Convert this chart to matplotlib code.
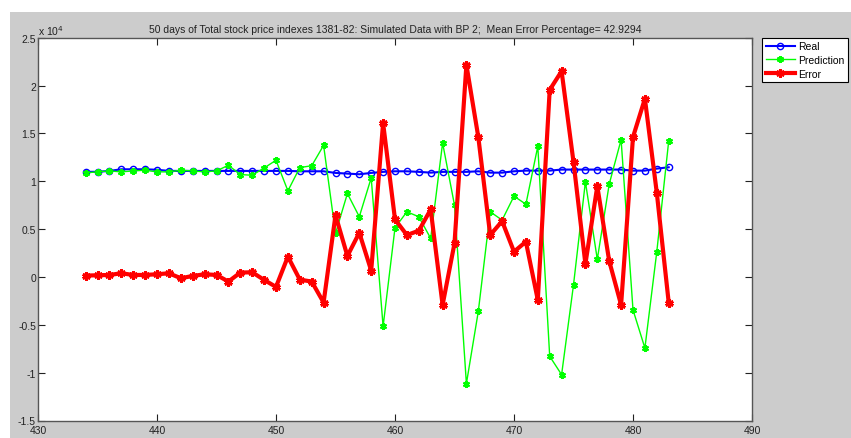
import matplotlib
matplotlib.use("Agg")
import matplotlib.pyplot as plt
from matplotlib.patches import Rectangle
from matplotlib.ticker import FuncFormatter
import numpy as np

# 50 days, x = 434 ... 483
days = np.arange(434, 484)

real = [10980, 10990, 11080, 11250, 11250, 11250, 11200, 11080, 11080, 11080,
        11080, 11080, 11080, 11080, 11080, 11080, 11080, 11080, 11040, 11040,
        11040, 10870, 10800, 10730, 10870, 10980, 11040, 11040, 10980, 10900,
        10980, 10980, 10980, 11040, 10900, 10900, 11040, 11110, 11110, 11110,
        11220, 11220, 11220, 11220, 11220, 11220, 11110, 11110, 11320, 11460]

prediction = [10875, 10980, 11080, 10980, 11080, 11150, 10980, 10980, 11150, 11080,
              10980, 11080, 11670, 10700, 10625, 11390, 12190, 9000, 11430, 11620,
              13750, 4550, 8720, 6290, 10350, -5170, 5140, 6810, 6290, 4030,
              14000, 7500, -11150, -3600, 6810, 5940, 8440, 7600, 13650, -8290,
              -10210, -830, 9940, 1840, 9690, 14340, -3440, -7430, 2640, 14210]

error = [140, 177, 208, 385, 208, 208, 281, 385, -135, 104,
         281, 208, -483, 455, 490, -310, -1040, 2125, -280, -483,
         -2670, 6460, 2190, 4620, 660, 16080, 6010, 4380, 4830, 7050,
         -2920, 3510, 22160, 14620, 4380, 5830, 2640, 3680, -2400, 19550,
         21500, 12020, 1360, 9480, 1670, -2920, 14620, 18620, 8790, -2670]

title = ("50 days of Total stock price indexes 1381-82: Simulated Data with BP 2;  "
         "Mean Error Percentage= 42.9294")

plt.rcParams['font.family'] = ['Liberation Sans Narrow', 'Liberation Sans', 'DejaVu Sans']

W, H = 851, 439
fig = plt.figure(figsize=(W / 100, H / 100), dpi=100, facecolor='white')

# grey matlab-like window background (screenshot has a thin white margin top/left)
fig.patches.append(Rectangle((10 / W, 0), (W - 10) / W, (H - 13) / H,
                             transform=fig.transFigure, facecolor='#cccccc',
                             edgecolor='none', zorder=-10))

ax = fig.add_axes([38 / W, (H - 421.5) / H, (752 - 38) / W, (421.5 - 38.7) / H])
ax.set_facecolor('white')

asterisk = (6, 2, 0)
ax.plot(days, real, color='#0000ff', lw=1.5, marker='o', ms=4.5,
        mfc='none', mec='#0000ff', mew=1, label='Real')
ax.plot(days, prediction, color='#00ff00', lw=1, marker=asterisk, ms=5,
        mew=1.5, label='Prediction')
ax.plot(days, error, color='#ff0000', lw=3, marker=asterisk, ms=6,
        mew=2, label='Error')

ax.set_xlim(430, 490)
ax.set_ylim(-15000, 25000)
ax.set_xticks(np.arange(430, 491, 10))
ax.set_yticks(np.arange(-15000, 25001, 5000))
ax.yaxis.set_major_formatter(FuncFormatter(lambda v, p: '%g' % (v / 1e4)))

ax.tick_params(direction='in', length=5, width=0.8, top=True, right=True,
               labelsize=7.5, colors='#222222')
ax.tick_params(axis='y', pad=1.5)
ax.tick_params(axis='x', pad=3.5)
for s in ax.spines.values():
    s.set_color('#555555')
    s.set_linewidth(1)

ax.text(0.0, 1.003, 'x 10$^{4}$', transform=ax.transAxes, ha='left',
        va='bottom', fontsize=7.5, color='#222222')
ax.set_title(title, fontsize=7.5, pad=4, color='#222222')

leg = ax.legend(loc='upper left', bbox_to_anchor=(762 / W, 1 - 38.7 / H),
                bbox_transform=fig.transFigure, borderaxespad=0,
                fancybox=False, framealpha=1, edgecolor='black',
                fontsize=7.5, handlelength=2.8, handletextpad=0.3,
                labelspacing=0.35, borderpad=0.35)
leg.get_frame().set_linewidth(0.8)

fig.savefig('out.png', dpi=100, facecolor=fig.get_facecolor())
